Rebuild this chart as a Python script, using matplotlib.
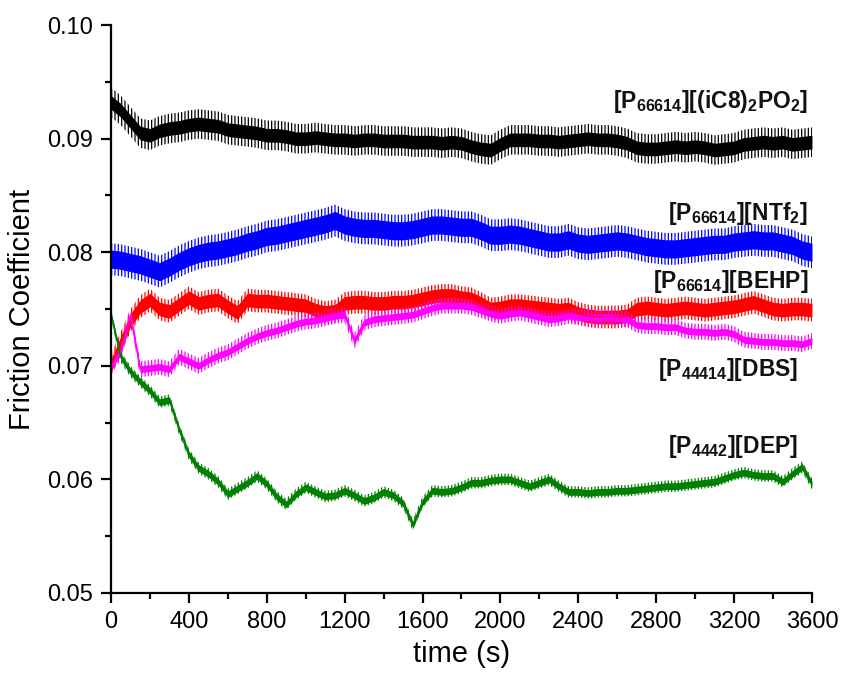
import numpy as np
import matplotlib.pyplot as plt

plt.rcParams['font.family'] = ['Liberation Sans', 'DejaVu Sans']
plt.rcParams['mathtext.fontset'] = 'custom'
plt.rcParams['mathtext.rm'] = 'Liberation Sans'
plt.rcParams['mathtext.bf'] = 'Liberation Sans:bold'
plt.rcParams['mathtext.default'] = 'regular'
plt.rcParams['hatch.linewidth'] = 0.9

# ── Data (centre of each noisy trace, every 50 s) ──
time_s = np.arange(0, 3601, 50)

p66614_ic8po2 = [
    0.0932, 0.0925, 0.0915, 0.0905, 0.0903, 0.0907, 0.0909, 0.0910, 0.0912, 0.0913,
    0.0912, 0.0911, 0.0908, 0.0907, 0.0906, 0.0905, 0.0903, 0.0903, 0.0902, 0.0900,
    0.0900, 0.0901, 0.0900, 0.0899, 0.0899, 0.0898, 0.0899, 0.0899, 0.0898, 0.0898,
    0.0898, 0.0897, 0.0897, 0.0897, 0.0896, 0.0897, 0.0896, 0.0893, 0.0891, 0.0890,
    0.0895, 0.0899, 0.0899, 0.0899, 0.0898, 0.0898, 0.0897, 0.0898, 0.0899, 0.0900,
    0.0899, 0.0899, 0.0898, 0.0896, 0.0892, 0.0891, 0.0891, 0.0892, 0.0893, 0.0892,
    0.0893, 0.0892, 0.0890, 0.0891, 0.0892, 0.0895, 0.0896, 0.0897, 0.0896, 0.0897,
    0.0895, 0.0896, 0.0897,
]
p66614_ntf2 = [
    0.0794, 0.0793, 0.0791, 0.0789, 0.0786, 0.0783, 0.0787, 0.0792, 0.0796, 0.0799,
    0.0801, 0.0802, 0.0804, 0.0806, 0.0809, 0.0811, 0.0814, 0.0815, 0.0817, 0.0819,
    0.0821, 0.0823, 0.0825, 0.0828, 0.0824, 0.0822, 0.0821, 0.0821, 0.0820, 0.0819,
    0.0819, 0.0820, 0.0822, 0.0824, 0.0824, 0.0823, 0.0822, 0.0822, 0.0819, 0.0815,
    0.0815, 0.0816, 0.0815, 0.0813, 0.0811, 0.0809, 0.0809, 0.0811, 0.0808, 0.0807,
    0.0808, 0.0809, 0.0810, 0.0809, 0.0807, 0.0805, 0.0804, 0.0803, 0.0803, 0.0804,
    0.0805, 0.0806, 0.0807, 0.0807, 0.0809, 0.0810, 0.0811, 0.0810, 0.0810, 0.0808,
    0.0806, 0.0802, 0.0800,
]
p66614_behp = [
    0.0700, 0.0720, 0.0740, 0.0752, 0.0758, 0.0750, 0.0748, 0.0754, 0.0760, 0.0755,
    0.0757, 0.0758, 0.0752, 0.0747, 0.0758, 0.0757, 0.0757, 0.0756, 0.0755, 0.0754,
    0.0753, 0.0749, 0.0747, 0.0748, 0.0755, 0.0756, 0.0756, 0.0755, 0.0755, 0.0756,
    0.0756, 0.0757, 0.0759, 0.0761, 0.0762, 0.0762, 0.0760, 0.0759, 0.0755, 0.0750,
    0.0751, 0.0753, 0.0753, 0.0752, 0.0751, 0.0750, 0.0749, 0.0750, 0.0746, 0.0744,
    0.0743, 0.0743, 0.0743, 0.0744, 0.0750, 0.0751, 0.0750, 0.0749, 0.0750, 0.0751,
    0.0750, 0.0749, 0.0750, 0.0751, 0.0752, 0.0754, 0.0756, 0.0753, 0.0750, 0.0749,
    0.0750, 0.0750, 0.0749,
]
p44414_dbs = [
    0.0700, 0.0712, 0.0745, 0.0697, 0.0698, 0.0699, 0.0697, 0.0708, 0.0704, 0.0700,
    0.0705, 0.0709, 0.0712, 0.0717, 0.0722, 0.0726, 0.0729, 0.0731, 0.0734, 0.0737,
    0.0739, 0.0740, 0.0742, 0.0744, 0.0745, 0.0722, 0.0738, 0.0741, 0.0742, 0.0743,
    0.0744, 0.0745, 0.0748, 0.0751, 0.0753, 0.0753, 0.0753, 0.0752, 0.0749, 0.0746,
    0.0744, 0.0746, 0.0747, 0.0745, 0.0743, 0.0741, 0.0742, 0.0744, 0.0743, 0.0743,
    0.0742, 0.0743, 0.0742, 0.0741, 0.0736, 0.0735, 0.0735, 0.0734, 0.0734, 0.0731,
    0.0730, 0.0730, 0.0729, 0.0730, 0.0728, 0.0723, 0.0722, 0.0721, 0.0721, 0.0720,
    0.0720, 0.0719, 0.0722,
]
p4442_dep = [
    0.0745, 0.0708, 0.0695, 0.0686, 0.0678, 0.0668, 0.0670, 0.0644, 0.0622, 0.0610,
    0.0605, 0.0598, 0.0587, 0.0592, 0.0597, 0.0603, 0.0596, 0.0585, 0.0578, 0.0587,
    0.0593, 0.0589, 0.0585, 0.0586, 0.0590, 0.0586, 0.0581, 0.0584, 0.0589, 0.0586,
    0.0579, 0.0560, 0.0580, 0.0590, 0.0589, 0.0590, 0.0593, 0.0597, 0.0597, 0.0599,
    0.0600, 0.0600, 0.0597, 0.0594, 0.0597, 0.0600, 0.0594, 0.0589, 0.0589, 0.0588,
    0.0589, 0.0589, 0.0590, 0.0590, 0.0591, 0.0592, 0.0593, 0.0594, 0.0594, 0.0595,
    0.0596, 0.0597, 0.0598, 0.0601, 0.0604, 0.0606, 0.0604, 0.0603, 0.0603, 0.0598,
    0.0605, 0.0611, 0.0596,
]

# half-width of the noise of each trace: full spikes and dense core
noise_outer = [0.0013, 0.0014, 0.0010, 0.0007, 0.0005]
noise_core = [0.0006, 0.0008, 0.0006, 0.0003, 0.0003]

series = [p66614_ic8po2, p66614_ntf2, p66614_behp, p44414_dbs, p4442_dep]
colors = ['black', '#0000ff', '#ff0000', '#ff00ff', '#007f00']
labels = [
    r'[P$_{66614}$][(iC8)$_2$PO$_2$]',
    r'[P$_{66614}$][NTf$_2$]',
    r'[P$_{66614}$][BEHP]',
    r'[P$_{44414}$][DBS]',
    r'[P$_{4442}$][DEP]',
]
label_x = [3580, 3580, 3580, 3530, 3530]
label_y = [0.0933, 0.0834, 0.0774, 0.0697, 0.0629]

fig = plt.figure(figsize=(8.41, 6.80), dpi=100)
ax = fig.add_axes([0.132, 0.128, 0.8335, 0.835])

for vals, hw_out, hw_in, col in zip(series, noise_outer, noise_core, colors):
    vals = np.array(vals)
    # spiky outer part drawn as dense vertical strokes
    ax.fill_between(time_s, vals - hw_out, vals + hw_out, facecolor='none',
                    edgecolor=col, hatch='|||||', lw=0)
    ax.fill_between(time_s, vals - hw_in, vals + hw_in, color=col, lw=0)
    ax.plot(time_s, vals, color=col, lw=1.0)

for txt, lx, ly in zip(labels, label_x, label_y):
    ax.text(lx, ly, txt, ha='right', va='center', fontsize=16.5,
            fontweight='bold', color='#111111')

ax.set_xlim(0, 3600)
ax.set_ylim(0.05, 0.10)
ax.set_xticks(np.arange(0, 3601, 400))
ax.set_xticks(np.arange(200, 3600, 400), minor=True)
ax.set_yticks([0.05, 0.06, 0.07, 0.08, 0.09, 0.10])
ax.set_yticks(np.arange(0.055, 0.1, 0.01), minor=True)
ax.set_yticklabels(['0.05', '0.06', '0.07', '0.08', '0.09', '0.10'])

for side in ['top', 'right']:
    ax.spines[side].set_visible(False)
for side in ['left', 'bottom']:
    ax.spines[side].set_linewidth(1.6)

ax.tick_params(which='major', direction='out', length=7, width=1.6, labelsize=17, pad=6)
ax.tick_params(which='minor', direction='out', length=4, width=1.6)

ax.set_xlabel('time (s)', fontsize=21, labelpad=5)
ax.set_ylabel('Friction Coefficient', fontsize=21, labelpad=8)

fig.savefig('out.png', dpi=100)
